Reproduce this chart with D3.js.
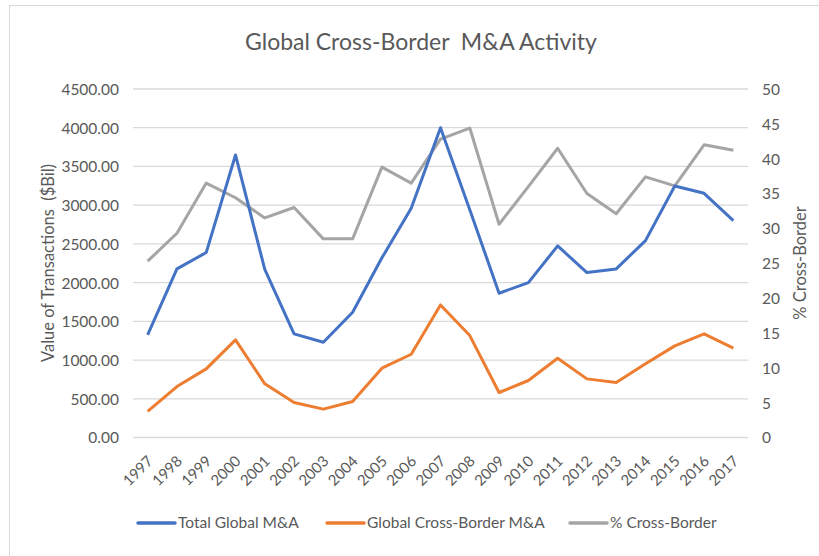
<!DOCTYPE html>
<html><head><meta charset="utf-8">
<script src="https://cdn.jsdelivr.net/npm/d3@7"></script>
<style>
body{margin:0;background:#fff;}
svg text{font-family:Lato,"Open Sans",sans-serif;fill:#595959;}
</style></head>
<body>
<svg id="chart" width="819" height="556"></svg>
<script>
const years = ["1997","1998","1999","2000","2001","2002","2003","2004","2005","2006","2007","2008","2009","2010","2011","2012","2013","2014","2015","2016","2017"];
const totalGlobal = [1325,2177,2388,3648,2170,1338,1230,1618,2320,2960,4000,2940,1863,2000,2474,2130,2177,2542,3248,3153,2800];
const crossBorder = [336,658,886,1260,693,452,366,465,895,1075,1712,1316,581,736,1024,757,710,951,1183,1338,1153];
const pctCross = [25.3,29.3,36.5,34.4,31.5,33.0,28.5,28.5,38.8,36.5,42.8,44.4,30.6,36.0,41.5,35.0,32.1,37.4,36.1,42.0,41.2];
const leftTicks = [0,500,1000,1500,2000,2500,3000,3500,4000,4500];
const rightTicks = [0,5,10,15,20,25,30,35,40,45,50];
const seriesNames = ["Total Global M&A","Global Cross-Border M&A","% Cross-Border"];
const colors = ["#4472C4","#ED7D31","#A5A5A5"];

const svg = d3.select("#chart");
const L = 133, R = 748, T = 89, B = 437.5;

svg.append("rect").attr("x",9.5).attr("y",5.5).attr("width",830).attr("height",600)
  .attr("fill","none").attr("stroke","#d9d9d9").attr("stroke-width",1);

const x = d3.scalePoint().domain(years).range([L,R]).padding(0.5);
const yL = d3.scaleLinear().domain([0,4500]).range([B,T]);
const yR = d3.scaleLinear().domain([0,50]).range([B,T]);

// gridlines
svg.append("g").selectAll("line").data(leftTicks).join("line")
  .attr("x1",L).attr("x2",R).attr("y1",d=>yL(d)).attr("y2",d=>yL(d))
  .attr("stroke","#d9d9d9").attr("stroke-width",1.3);

// left axis
const gl = svg.append("g").attr("transform",`translate(${L-14},0)`)
  .call(d3.axisLeft(yL).tickValues(leftTicks).tickFormat(d3.format(".2f")).tickSize(0).tickPadding(0));
gl.select(".domain").remove();
gl.selectAll("text").attr("font-size",15.5).attr("dy","0.35em");

// right axis
const gr = svg.append("g").attr("transform",`translate(${R+14},0)`)
  .call(d3.axisRight(yR).tickValues(rightTicks).tickSize(0).tickPadding(0));
gr.select(".domain").remove();
gr.selectAll("text").attr("font-size",15.5).attr("dy","0.35em");

// x axis
const gx = svg.append("g").attr("transform",`translate(0,${B})`)
  .call(d3.axisBottom(x).tickSize(0).tickPadding(0));
gx.select(".domain").remove();
gx.selectAll("text").attr("font-size",15).attr("text-anchor","end")
  .attr("transform","translate(2,21) rotate(-45)").attr("dy","0.35em").attr("dx","0");

// lines
const lineL = d3.line().x((d,i)=>x(years[i])).y(d=>yL(d));
const lineR = d3.line().x((d,i)=>x(years[i])).y(d=>yR(d));
svg.append("path").datum(pctCross).attr("d",lineR).attr("fill","none").attr("stroke",colors[2]).attr("stroke-width",3).attr("stroke-linejoin","round");
svg.append("path").datum(crossBorder).attr("d",lineL).attr("fill","none").attr("stroke",colors[1]).attr("stroke-width",3).attr("stroke-linejoin","round");
svg.append("path").datum(totalGlobal).attr("d",lineL).attr("fill","none").attr("stroke",colors[0]).attr("stroke-width",3).attr("stroke-linejoin","round");

// title
svg.append("text").attr("x",421).attr("y",50).attr("text-anchor","middle").attr("font-size",23)
  .text("Global Cross-Border  M&A Activity").style("white-space","pre");

// axis titles
svg.append("text").attr("transform","translate(54,263) rotate(-90)").attr("text-anchor","middle")
  .attr("font-size",16.5).text("Value of Transactions  ($Bil)").style("white-space","pre");
svg.append("text").attr("transform","translate(806,263) rotate(-90)").attr("text-anchor","middle")
  .attr("font-size",16.5).text("% Cross-Border");

// legend
const legX = [138,327,570];
const lg = svg.append("g").selectAll("g").data(seriesNames).join("g")
  .attr("transform",(d,i)=>`translate(${legX[i]},523)`);
lg.append("line").attr("x1",0).attr("x2",37).attr("y1",0).attr("y2",0)
  .attr("stroke",(d,i)=>colors[i]).attr("stroke-width",3.5).attr("stroke-linecap","round");
lg.append("text").attr("x",40).attr("y",0).attr("dy","0.35em").attr("font-size",15.5).text(d=>d);
</script>
</body></html>
